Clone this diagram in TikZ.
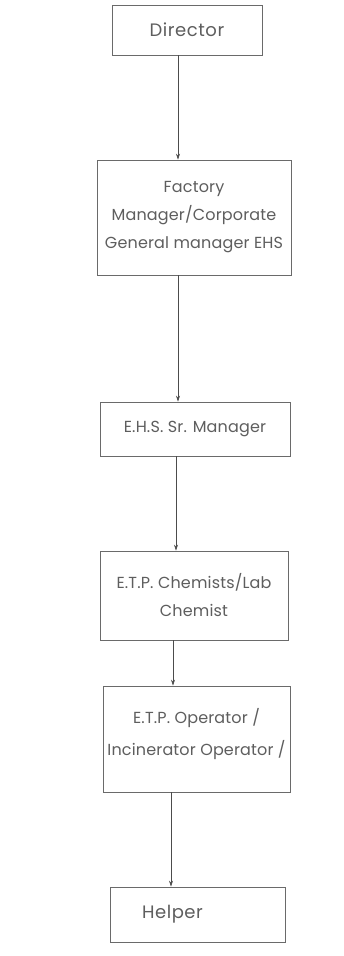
\documentclass[tikz,border=0pt]{standalone}
\usepackage{fontspec}
\setmainfont{Poppins}
\usetikzlibrary{arrows.meta}
\definecolor{inkgray}{HTML}{5E5E5E}
\definecolor{linegray}{HTML}{6A6A6A}
\begin{document}
\begin{tikzpicture}[x=1pt,y=-1pt,
  orgbox/.style={draw=linegray, line width=0.7pt, fill=white, align=center,
    text=inkgray, font=\fontsize{16}{28}\selectfont\addfontfeatures{LetterSpace=1}, inner sep=0pt},
  bigtxt/.style={font=\fontsize{18}{28}\selectfont\addfontfeatures{LetterSpace=3}},
  arr/.style={draw=black!70, line width=0.6pt, -{Stealth[length=6pt,width=4pt]}}]
\useasboundingbox (0,0) rectangle (344,956);
\fill[white] (0,0) rectangle (344,956);
\node[orgbox, bigtxt, minimum width=150, minimum height=50] (dir) at (187,30) {Director};
\node[orgbox, minimum width=194, minimum height=115] (fac) at (194,217.5)
  {Factory\\Manager/Corporate\\General manager EHS};
\node[orgbox, minimum width=190, minimum height=54] (ehs) at (195,429) {E.H.S. Sr. Manager};
\node[orgbox, minimum width=188, minimum height=89] (chem) at (194,595.5)
  {E.T.P. Chemists/Lab\\Chemist};
\node[orgbox, minimum width=187, minimum height=106] (op) at (196.5,739)
  {E.T.P. Operator /\\[4pt]Incinerator Operator /\\[-14pt]\mbox{}};
\node[orgbox, bigtxt, minimum width=175, minimum height=55] (help) at (197.5,914.5) {Helper\hspace{50pt}};
\coordinate (x1) at (178,0);
\coordinate (x2) at (178,0);
\coordinate (x3) at (176,0);
\coordinate (x4) at (173,0);
\coordinate (x5) at (171,0);
\draw[arr] (dir.south -| x1) -- (fac.north -| x1);
\draw[arr] (fac.south -| x2) -- (ehs.north -| x2);
\draw[arr] (ehs.south -| x3) -- (chem.north -| x3);
\draw[arr] (chem.south -| x4) -- (op.north -| x4);
\draw[arr] (op.south -| x5) -- (help.north -| x5);
\end{tikzpicture}
\end{document}
